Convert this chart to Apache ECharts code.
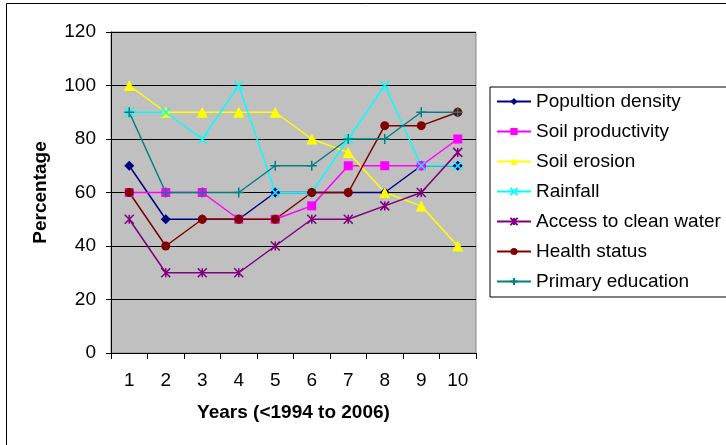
<!DOCTYPE html>
<html><head><meta charset="utf-8">
<script src="https://cdn.jsdelivr.net/npm/echarts@6/dist/echarts.min.js"></script>
<style>html,body{margin:0;padding:0;background:#fff;}#c{width:726px;height:445px;}</style>
</head><body><div id="c"></div>
<script>
var categories = ['1','2','3','4','5','6','7','8','9','10'];
var populationDensity = [70,50,50,50,60,60,60,60,70,70];
var soilProductivity = [60,60,60,50,50,55,70,70,70,80];
var soilErosion = [100,90,90,90,90,80,75,60,55,40];
var rainfall = [90,90,80,100,60,60,80,100,70,70];
var cleanWater = [50,30,30,30,40,50,50,55,60,75];
var healthStatus = [60,40,50,50,50,60,60,85,85,90];
var primaryEducation = [90,60,60,60,70,70,80,80,90,90];
var seriesNames = ['Popultion density','Soil productivity','Soil erosion','Rainfall','Access to clean water','Health status','Primary education'];

var X = 'path://M0,0L10,10M10,0L0,10';
var AST = 'path://M0,0L10,10M10,0L0,10M5,0L5,10';
var PLUS = 'path://M5,0L5,10M0,5L10,5';
var FONT = 'Liberation Sans, Arial';

function mk(name, data, color, symbol, size, stroke) {
  return {
    name: name, type: 'line', data: data, symbol: symbol, symbolSize: size,
    showAllSymbol: true,
    lineStyle: {color: color, width: 1.5},
    itemStyle: stroke ? {color: color, borderColor: color, borderWidth: 1.5} : {color: color, borderWidth: 0},
    emphasis: {disabled: true},
    animation: false
  };
}

var chart = echarts.init(document.getElementById('c'), null, {renderer: 'canvas'});
chart.setOption({
  animation: false,
  backgroundColor: '#fff',
  graphic: [{type: 'rect', shape: {x: 6.5, y: 3.5, width: 900, height: 600}, style: {fill: 'none', stroke: '#000', lineWidth: 1}, silent: true}],
  grid: {left: 111, top: 32, width: 365, height: 321, show: true, backgroundColor: '#C0C0C0', borderColor: '#888', borderWidth: 1},
  legend: {
    left: 490, top: 87, orient: 'vertical', itemGap: 11, itemWidth: 34, itemHeight: 9,
    padding: [5, 200, 6, 6], borderColor: '#000', borderWidth: 1,
    textStyle: {fontFamily: FONT, fontSize: 19, color: '#000'},
    data: seriesNames
  },
  xAxis: {
    type: 'category', data: categories, boundaryGap: true,
    name: 'Years (<1994 to 2006)', nameLocation: 'middle', nameGap: 50,
    nameTextStyle: {fontFamily: FONT, fontSize: 19, fontWeight: 'bold', color: '#000'},
    axisLine: {lineStyle: {color: '#000', width: 1}},
    axisTick: {show: true, alignWithLabel: false, length: 6, lineStyle: {color: '#000'}},
    axisLabel: {fontFamily: FONT, fontSize: 19, color: '#000', margin: 18}
  },
  yAxis: {
    type: 'value', min: 0, max: 120, interval: 20,
    name: 'Percentage', nameLocation: 'middle', nameGap: 61, nameRotate: 90,
    nameTextStyle: {fontFamily: FONT, fontSize: 19, fontWeight: 'bold', color: '#000'},
    axisLine: {show: true, lineStyle: {color: '#000', width: 1}},
    axisTick: {show: true, length: 5, lineStyle: {color: '#000'}},
    splitLine: {show: true, lineStyle: {color: '#000', width: 1}},
    axisLabel: {fontFamily: FONT, fontSize: 19, color: '#000', margin: 15}
  },
  series: [
    mk(seriesNames[0], populationDensity, '#000080', 'diamond', 10, false),
    mk(seriesNames[1], soilProductivity, '#FF00FF', 'rect', 9, false),
    mk(seriesNames[2], soilErosion, '#FFFF00', 'triangle', 11, false),
    mk(seriesNames[3], rainfall, '#00FFFF', X, 9, true),
    mk(seriesNames[4], cleanWater, '#800080', AST, 9, true),
    mk(seriesNames[5], healthStatus, '#800000', 'circle', 9, false),
    mk(seriesNames[6], primaryEducation, '#008080', PLUS, 10, true)
  ]
});
</script></body></html>
